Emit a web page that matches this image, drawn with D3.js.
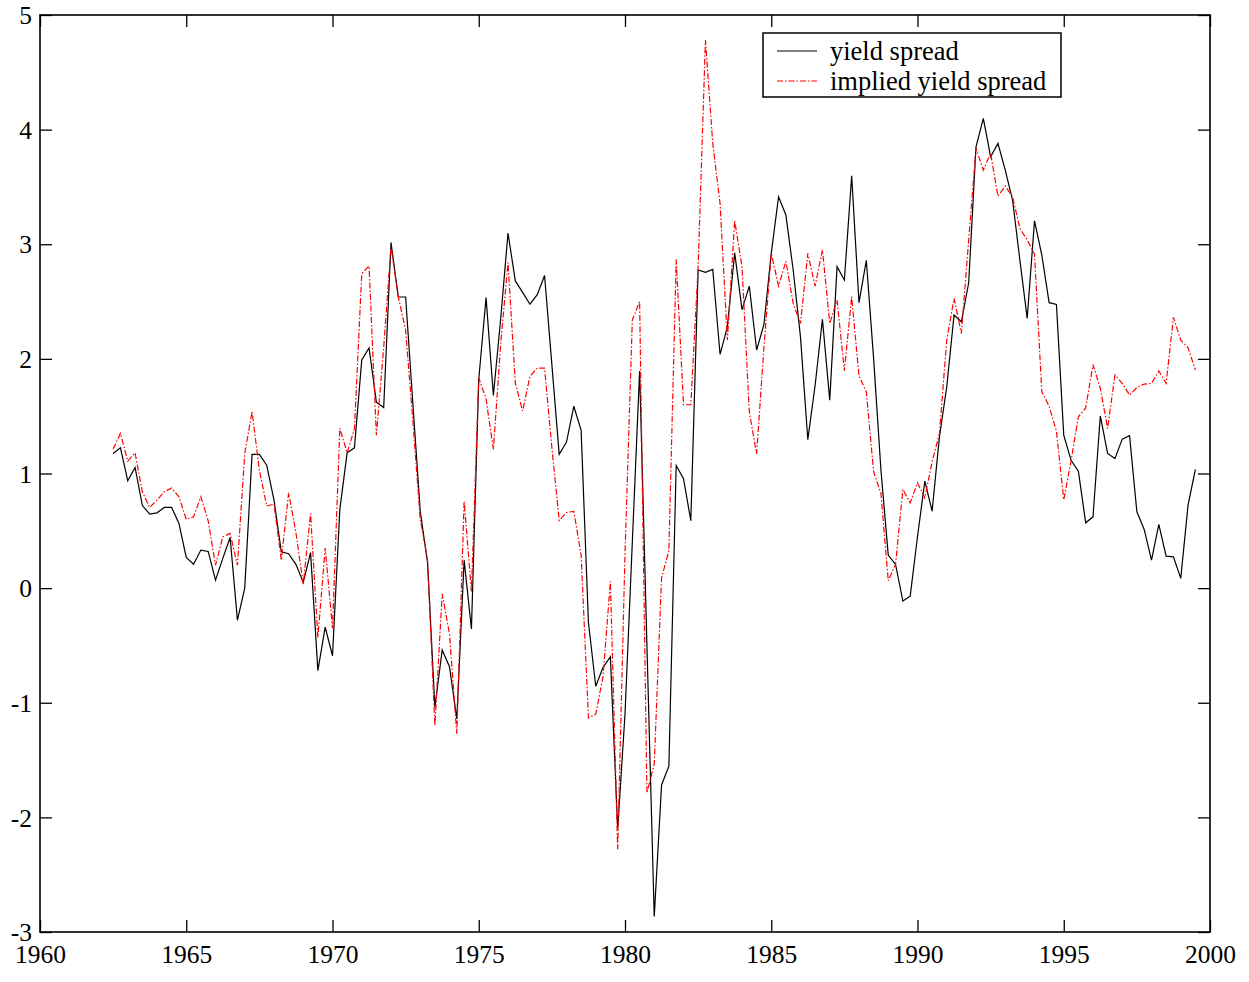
<!DOCTYPE html>
<html>
<head>
<meta charset="UTF-8">
<title>yield spread</title>
<style>
  body { margin: 0; background: #fff; }
  text { font-family: "Liberation Serif", "Times New Roman", serif; }
</style>
</head>
<body>
<script src="https://cdn.jsdelivr.net/npm/d3@7"></script>
<script>
// quarterly data, first quarter 1962.5, step 0.25 year
var startYear = 1962.5;
var stepYear = 0.25;

var yieldSpread = [
  1.175, 1.224, 0.936, 1.053, 0.72, 0.646, 0.657, 0.704, 0.704, 0.564,
  0.268, 0.209, 0.332, 0.32, 0.07, 0.26, 0.442, -0.279, 0.0, 1.166,
  1.166, 1.073, 0.768, 0.317, 0.30, 0.207, 0.05, 0.31, -0.72, -0.34,
  -0.59, 0.685, 1.18, 1.224, 1.99, 2.095, 1.622, 1.575, 3.016, 2.54,
  2.54, 1.6, 0.67, 0.22, -1.04, -0.54, -0.686, -1.14, 0.244, -0.357,
  1.82, 2.534, 1.68, 2.35, 3.098, 2.68, 2.58, 2.477, 2.56, 2.728,
  1.95, 1.168, 1.274, 1.587, 1.376, -0.3, -0.856, -0.69, -0.6, -2.1,
  -1.1, 0.4, 1.893, -0.5, -2.864, -1.717, -1.553, 1.07, 0.955, 0.589,
  2.775, 2.755, 2.78, 2.04, 2.28, 2.926, 2.43, 2.635, 2.077, 2.3,
  2.92, 3.414, 3.255, 2.775, 2.19, 1.295, 1.77, 2.345, 1.64, 2.804,
  2.688, 3.597, 2.49, 2.86, 2.0, 1.03, 0.288, 0.207, -0.113, -0.07,
  0.448, 0.934, 0.672, 1.32, 1.757, 2.382, 2.324, 2.664, 3.85, 4.098,
  3.764, 3.88, 3.647, 3.386, 2.862, 2.353, 3.205, 2.906, 2.49, 2.475,
  1.335, 1.115, 1.02, 0.57, 0.622, 1.502, 1.175, 1.13, 1.30, 1.33,
  0.666, 0.512, 0.244, 0.556, 0.279, 0.273, 0.085, 0.724, 1.036
];

var impliedSpread = [
  1.213, 1.35, 1.108, 1.18, 0.84, 0.704, 0.768, 0.84, 0.873, 0.797,
  0.6, 0.622, 0.797, 0.587, 0.2, 0.448, 0.477, 0.2, 1.175, 1.54,
  1.03, 0.716, 0.733, 0.244, 0.832, 0.483, 0.032, 0.65, -0.43, 0.35,
  -0.35, 1.395, 1.18, 1.39, 2.743, 2.81, 1.334, 2.1, 2.98, 2.54,
  2.25, 1.45, 0.6, 0.25, -1.2, -0.05, -0.40, -1.27, 0.76, -0.03,
  1.835, 1.65, 1.21, 2.13, 2.84, 1.79, 1.546, 1.846, 1.92, 1.92,
  1.227, 0.589, 0.66, 0.67, 0.288, -1.133, -1.1, -0.77, 0.06, -2.277,
  0.3, 2.34, 2.5, -1.787, -1.533, 0.09, 0.326, 2.866, 1.6, 1.6,
  2.8, 4.78, 3.88, 3.357, 2.164, 3.205, 2.804, 1.538, 1.17, 2.1,
  2.92, 2.635, 2.85, 2.484, 2.31, 2.92, 2.635, 2.95, 2.31, 2.513,
  1.896, 2.543, 1.85, 1.713, 1.015, 0.826, 0.064, 0.209, 0.861, 0.744,
  0.919, 0.788, 1.102, 1.35, 2.164, 2.528, 2.222, 3.037, 3.837, 3.647,
  3.793, 3.42, 3.508, 3.414, 3.139, 3.037, 2.914, 1.713, 1.588, 1.37,
  0.77, 1.11, 1.495, 1.572, 1.95, 1.743, 1.394, 1.859, 1.786, 1.684,
  1.751, 1.78, 1.786, 1.894, 1.786, 2.362, 2.164, 2.097, 1.902
];

var xTicks = [1960, 1965, 1970, 1975, 1980, 1985, 1990, 1995, 2000];
var yTicks = [-3, -2, -1, 0, 1, 2, 3, 4, 5];
var seriesNames = ["yield spread", "implied yield spread"];

// canvas (plot box edges in px)
var width = 1249, height = 982;
var boxL = 40, boxR = 1210, boxT = 15, boxB = 932;
var tickLen = 12;

var svg = d3.select("body").append("svg")
  .attr("width", width)
  .attr("height", height);

var x = d3.scaleLinear().domain([1960, 2000]).range([boxL, boxR]);
var y = d3.scaleLinear().domain([-3, 5]).range([boxB, boxT]);

// plain hyphen minus like the original
var plain = function(d) { return String(d); };

// axes, ticks pointing inward
var xAxis = svg.append("g")
  .attr("transform", "translate(0," + boxB + ")")
  .call(d3.axisBottom(x).tickValues(xTicks).tickFormat(plain)
    .tickSizeInner(-tickLen).tickSizeOuter(0));
svg.append("g")
  .attr("transform", "translate(0," + boxT + ")")
  .call(d3.axisTop(x).tickValues(xTicks).tickFormat("")
    .tickSizeInner(-tickLen).tickSizeOuter(0));
var yAxis = svg.append("g")
  .attr("transform", "translate(" + boxL + ",0)")
  .call(d3.axisLeft(y).tickValues(yTicks).tickFormat(plain)
    .tickSizeInner(-tickLen).tickSizeOuter(0));
svg.append("g")
  .attr("transform", "translate(" + boxR + ",0)")
  .call(d3.axisRight(y).tickValues(yTicks).tickFormat("")
    .tickSizeInner(-tickLen).tickSizeOuter(0));

svg.selectAll(".domain").remove();
svg.selectAll(".tick line").attr("stroke", "#000").attr("stroke-width", 1.3);
svg.selectAll(".tick text")
  .attr("fill", "#000")
  .style("font-family", "'Liberation Serif', serif")
  .style("font-size", "25.5px");
yAxis.selectAll(".tick text").attr("x", -8).attr("dy", "0.34em");
xAxis.selectAll(".tick text").attr("y", 13).attr("dy", "0.71em");

// frame
svg.append("rect")
  .attr("x", boxL).attr("y", boxT)
  .attr("width", boxR - boxL).attr("height", boxB - boxT)
  .attr("fill", "none")
  .attr("stroke", "#000")
  .attr("stroke-width", 1.6);

// lines
var line = d3.line()
  .x(function(d, i) { return x(startYear + i * stepYear); })
  .y(function(d) { return y(d); });

svg.append("path")
  .datum(yieldSpread)
  .attr("d", line)
  .attr("fill", "none")
  .attr("stroke", "#000")
  .attr("stroke-width", 1.2);

svg.append("path")
  .datum(impliedSpread)
  .attr("d", line)
  .attr("fill", "none")
  .attr("stroke", "#ff0000")
  .attr("stroke-width", 1.2)
  .attr("stroke-dasharray", "6,2,1.5,2");

// legend
var lg = svg.append("g").attr("transform", "translate(763,33)");
lg.append("rect")
  .attr("width", 298).attr("height", 64)
  .attr("fill", "#fff")
  .attr("stroke", "#000")
  .attr("stroke-width", 1.5);
var styles = [
  { stroke: "#000", dash: null },
  { stroke: "#ff0000", dash: "6,2,1.5,2" }
];
seriesNames.forEach(function(name, i) {
  var yy = 18 + i * 30;
  lg.append("line")
    .attr("x1", 14).attr("x2", 54)
    .attr("y1", yy).attr("y2", yy)
    .attr("stroke", styles[i].stroke)
    .attr("stroke-width", 1.2)
    .attr("stroke-dasharray", styles[i].dash);
  lg.append("text")
    .attr("x", 67).attr("y", yy + 8.5)
    .attr("font-size", 26.5)
    .text(name);
});
</script>
</body>
</html>
